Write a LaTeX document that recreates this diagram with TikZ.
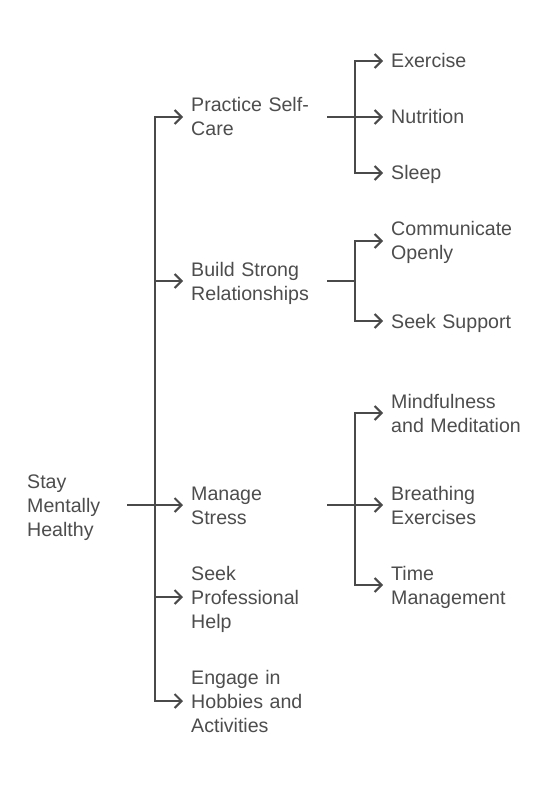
\documentclass[tikz,border=0pt]{standalone}
\usepackage{fontspec}
\setmainfont{Liberation Sans}
\usetikzlibrary{arrows.meta}
\definecolor{ink}{HTML}{4A4A4A}
\definecolor{txt}{HTML}{4D4D4D}
\newcommand\lnstrut{\rule[-5pt]{0pt}{24pt}}
\tikzset{
  lbl/.style={inner ysep=0pt, anchor=west, align=left, text=txt,
    font=\fontsize{19.6}{24}\selectfont,
    execute at begin node=\lnstrut, execute at end node=\lnstrut},
  rootlbl/.style={lbl, inner xsep=0pt, text width=100pt},
  midlbl/.style={lbl, inner xsep=8pt, text width=128pt},
  leaflbl/.style={lbl, inner xsep=8pt, text width=160pt},
  link/.style={draw=ink, line width=2pt},
  arr/.style={link, -{Straight Barb[length=7pt,width=14pt]}}
}
\begin{document}
\begin{tikzpicture}[x=1pt,y=1pt]
\useasboundingbox[fill=white] (0,0) rectangle (558,-786);
% root
\node[rootlbl] (root) at (27,-505) {Stay\\Mentally\\Healthy};
\coordinate (j0) at (155,-505);
% level 1
\node[midlbl] (n1) at (183,-117) {Practice Self-\\Care};
\node[midlbl] (n2) at (183,-281) {Build Strong\\Relationships};
\node[midlbl] (n3) at (183,-505) {Manage\\Stress};
\node[midlbl] (n4) at (183,-597) {Seek\\Professional\\Help};
\node[midlbl] (n5) at (183,-701) {Engage in\\Hobbies and\\Activities};
% level 2
\node[leaflbl] (c1) at (383,-61) {Exercise};
\node[leaflbl] (c2) at (383,-117) {Nutrition};
\node[leaflbl] (c3) at (383,-173) {Sleep};
\node[leaflbl] (d1) at (383,-241) {Communicate\\Openly};
\node[leaflbl] (d2) at (383,-321) {Seek Support};
\node[leaflbl] (m1) at (383,-413) {Mindfulness\\and Meditation};
\node[leaflbl] (m2) at (383,-505) {Breathing\\Exercises};
\node[leaflbl] (m3) at (383,-585) {Time\\Management};
\coordinate (j1) at (355,-117);
\coordinate (j2) at (355,-281);
\coordinate (j3) at (355,-505);
% root connectors
\draw[link] (root.east) -- (j0);
\foreach \n in {n1,n2,n3,n4,n5} \draw[arr] (j0) |- (\n.west);
% level 1 connectors
\draw[link] (n1.east) -- (j1);
\foreach \n in {c1,c2,c3} \draw[arr] (j1) |- (\n.west);
\draw[link] (n2.east) -- (j2);
\foreach \n in {d1,d2} \draw[arr] (j2) |- (\n.west);
\draw[link] (n3.east) -- (j3);
\foreach \n in {m1,m2,m3} \draw[arr] (j3) |- (\n.west);
\end{tikzpicture}
\end{document}
